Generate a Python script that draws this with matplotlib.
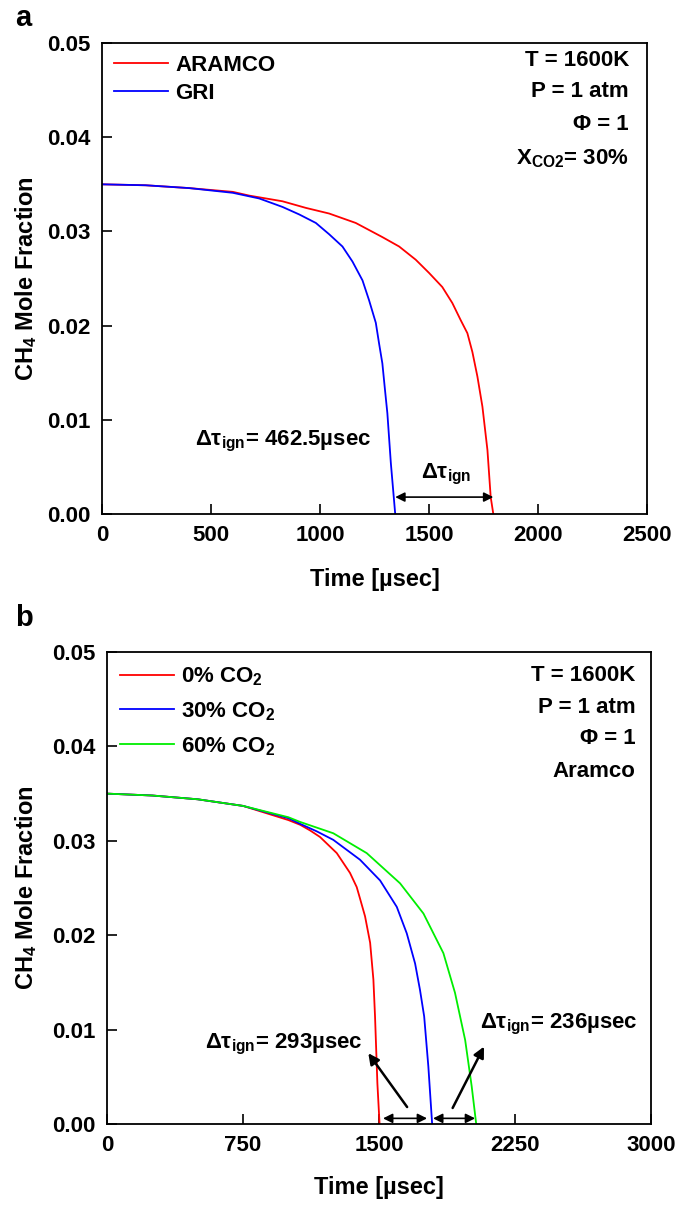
import matplotlib
matplotlib.use("Agg")
import matplotlib.pyplot as plt

plt.rcParams["font.family"] = ["Liberation Sans", "DejaVu Sans"]
plt.rcParams["font.weight"] = "bold"
plt.rcParams["mathtext.fontset"] = "custom"
plt.rcParams["mathtext.rm"] = "Liberation Sans:bold"
plt.rcParams["mathtext.it"] = "Liberation Sans:bold"
plt.rcParams["mathtext.bf"] = "Liberation Sans:bold"

# panel a: 30% CO2, ARAMCO vs GRI
t_gri = [0, 200, 400, 600, 721, 828, 905, 981, 1042, 1103, 1149, 1195, 1225,
         1256, 1271, 1286, 1298, 1309, 1325, 1345]
x_gri = [0.0350, 0.0349, 0.0346, 0.0341, 0.0335, 0.0326, 0.0318, 0.0309,
         0.0297, 0.0284, 0.0268, 0.0248, 0.0227, 0.0203, 0.0181, 0.0160,
         0.0132, 0.0107, 0.0054, 0.0]
t_aramco = [0, 200, 400, 600, 676, 828, 935, 1042, 1164, 1286, 1363, 1439,
            1500, 1561, 1607, 1645, 1676, 1699, 1722, 1745, 1768, 1783, 1795]
x_aramco = [0.0350, 0.0349, 0.0346, 0.0342, 0.0338, 0.0332, 0.0325, 0.0319,
            0.0309, 0.0294, 0.0284, 0.0270, 0.0256, 0.0241, 0.0224, 0.0206,
            0.0192, 0.0172, 0.0146, 0.0114, 0.0068, 0.0018, 0.0]

# panel b: Aramco, CO2 dilution
t_co2_0 = [0, 250, 500, 750, 1000, 1065, 1120, 1175, 1267, 1340, 1377, 1395,
           1423, 1451, 1469, 1478, 1491, 1503]
x_co2_0 = [0.0350, 0.0348, 0.0344, 0.0337, 0.0322, 0.0317, 0.0311, 0.0304,
           0.0287, 0.0266, 0.0251, 0.0239, 0.0220, 0.0192, 0.0153, 0.0114,
           0.0043, 0.0]
t_co2_30 = [0, 250, 500, 750, 1000, 1065, 1157, 1248, 1395, 1506, 1598, 1653,
            1699, 1726, 1749, 1772, 1793]
x_co2_30 = [0.0350, 0.0348, 0.0344, 0.0337, 0.0324, 0.0318, 0.0310, 0.0301,
            0.0280, 0.0258, 0.0230, 0.0202, 0.0170, 0.0142, 0.0114, 0.0061, 0.0]
t_co2_60 = [0, 250, 500, 750, 1000, 1065, 1248, 1432, 1616, 1745, 1855, 1919,
            1975, 2011, 2036]
x_co2_60 = [0.0350, 0.0348, 0.0344, 0.0337, 0.0325, 0.0320, 0.0308, 0.0287,
            0.0255, 0.0223, 0.0181, 0.0139, 0.0089, 0.0040, 0.0]

FS = 16
LFS = 17
fig = plt.figure(figsize=(6.79, 12.05), dpi=100)
ax1 = fig.add_axes([0.1502, 0.5734, 0.8027, 0.3909])
ax2 = fig.add_axes([0.1576, 0.0672, 0.8012, 0.3917])


def style(ax, xmax, xticks):
    ax.set_xlim(0, xmax)
    ax.set_ylim(0, 0.05)
    ax.set_xticks(xticks)
    ax.set_yticks([0, 0.01, 0.02, 0.03, 0.04, 0.05])
    ax.set_yticklabels(["0.00", "0.01", "0.02", "0.03", "0.04", "0.05"])
    ax.tick_params(direction="in", length=7, width=1.2, labelsize=FS, pad=8,
                   top=False, right=False)
    for s in ax.spines.values():
        s.set_linewidth(1.3)
    ax.set_xlabel("Time [µsec]", fontsize=LFS, fontweight="bold")
    ax.set_ylabel("CH$_4$ Mole Fraction", fontsize=LFS, fontweight="bold")


style(ax1, 2500, [0, 500, 1000, 1500, 2000, 2500])
ax1.plot(t_aramco, x_aramco, color="red", lw=1.3, label="ARAMCO")
ax1.plot(t_gri, x_gri, color="blue", lw=1.3, label="GRI")
ax1.legend(loc="upper left", frameon=False, fontsize=FS, handlelength=2.4,
           handletextpad=0.35, labelspacing=0.3, borderaxespad=0.15)
ax1.xaxis.set_label_coords(0.5, -0.115)
ax1.yaxis.set_label_coords(-0.115, 0.5)
for yy, s in zip([0.962, 0.897, 0.828, 0.755],
                 ["T = 1600K", "P = 1 atm", "Φ = 1", "X$_{CO2}$= 30%"]):
    ax1.text(0.967, yy, s, transform=ax1.transAxes, ha="right", va="center",
             fontsize=FS, fontweight="bold")
ax1.annotate("", xy=(1345, 0.0018), xytext=(1795, 0.0018),
             arrowprops=dict(arrowstyle="<|-|>", color="black", lw=1.2,
                             shrinkA=0, shrinkB=0, mutation_scale=14))
ax1.text(427, 0.0077, "Δτ$_{ign}$= 462.5µsec", ha="left", va="center",
         fontsize=FS, fontweight="bold")
ax1.text(1577, 0.0042, "Δτ$_{ign}$", ha="center", va="center",
         fontsize=FS, fontweight="bold")

style(ax2, 3000, [0, 750, 1500, 2250, 3000])
ax2.plot(t_co2_0, x_co2_0, color="red", lw=1.3, label="0% CO$_2$")
ax2.plot(t_co2_30, x_co2_30, color="blue", lw=1.3, label="30% CO$_2$")
ax2.plot(t_co2_60, x_co2_60, color="#00ee00", lw=1.3, label="60% CO$_2$")
ax2.legend(loc="upper left", frameon=False, fontsize=FS, handlelength=2.4,
           handletextpad=0.35, labelspacing=0.55, borderaxespad=0.2)
ax2.xaxis.set_label_coords(0.5, -0.11)
ax2.yaxis.set_label_coords(-0.125, 0.5)
for yy, s in zip([0.951, 0.883, 0.816, 0.746],
                 ["T = 1600K", "P = 1 atm", "Φ = 1", "Aramco"]):
    ax2.text(0.971, yy, s, transform=ax2.transAxes, ha="right", va="center",
             fontsize=FS, fontweight="bold")
for a, b in [(1522, 1765), (1798, 2030)]:
    ax2.annotate("", xy=(a, 0.0006), xytext=(b, 0.0006),
                 arrowprops=dict(arrowstyle="<|-|>", color="black", lw=1.2,
                                 shrinkA=0, shrinkB=0, mutation_scale=14))
ax2.annotate("", xy=(1441, 0.0075), xytext=(1655, 0.0018),
             arrowprops=dict(arrowstyle="-|>", color="black", lw=1.8,
                             shrinkA=0, shrinkB=0, mutation_scale=16))
ax2.annotate("", xy=(2079, 0.0082), xytext=(1906, 0.0017),
             arrowprops=dict(arrowstyle="-|>", color="black", lw=1.8,
                             shrinkA=0, shrinkB=0, mutation_scale=16))
ax2.text(1412, 0.0084, "Δτ$_{ign}$= 293µsec", ha="right", va="center",
         fontsize=FS, fontweight="bold")
ax2.text(2057, 0.0105, "Δτ$_{ign}$= 236µsec", ha="left", va="center",
         fontsize=FS, fontweight="bold")

fig.text(0.022, 1 - 18 / 1205, "a", fontsize=21, fontweight="bold", va="center")
fig.text(0.022, 1 - 618 / 1205, "b", fontsize=21, fontweight="bold", va="center")

fig.savefig("out.png", dpi=100)
